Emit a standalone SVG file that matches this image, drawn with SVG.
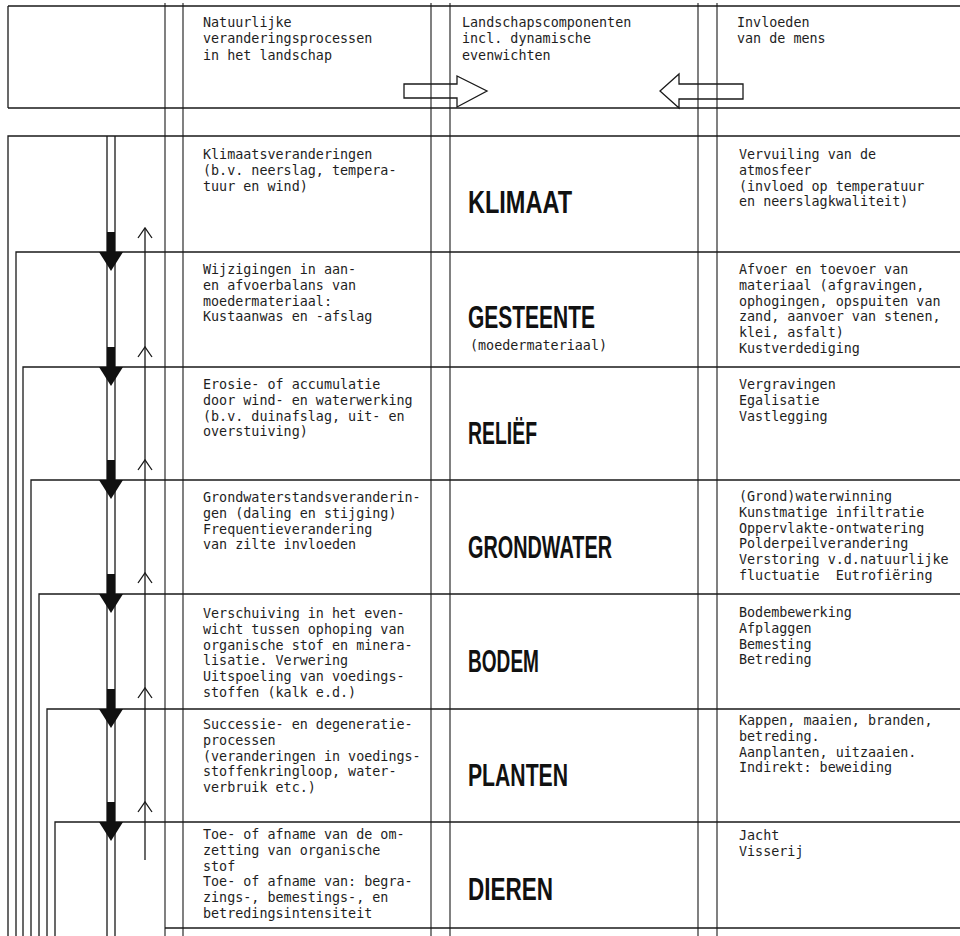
<svg xmlns="http://www.w3.org/2000/svg" width="960" height="936" viewBox="0 0 960 936">
<style>
.ln{stroke:#1a1a1a;stroke-width:1.3;fill:none}
.th{stroke:#1a1a1a;stroke-width:1.1;fill:none}
.t{font-family:"DejaVu Sans Mono","Liberation Mono",monospace;font-size:13.4px;fill:#1e1e1e}
.big{font-family:"Liberation Sans",Arial,sans-serif;font-weight:bold;font-size:32px;fill:#111}
.blk{fill:#111;stroke:none}
</style>
<rect width="960" height="936" fill="#fff"/>
<g id="grid">
<path class="ln" d="M8,6 H960 M8,108 H960 M8,6 V108"/>
<path class="th" d="M165,3 V936 M183,3 V936 M431,3 V936 M450,3 V936 M698,3 V936 M717,3 V936"/>
<path class="ln" d="M8,936 V136 H960"/>
<path class="ln" d="M16,936 V252 H960"/>
<path class="ln" d="M23,936 V367 H960"/>
<path class="ln" d="M31,936 V480 H960"/>
<path class="ln" d="M39,936 V594 H960"/>
<path class="ln" d="M47,936 V709 H960"/>
<path class="ln" d="M55,936 V822 H960"/>
<path class="ln" d="M165,928 H960"/>
</g>
<g id="header">
<g id="h-natuur"><text class="t" x="203" y="27">Natuurlijke<tspan x="203" dy="16.3">veranderingsprocessen</tspan><tspan x="203" dy="16.3">in het landschap</tspan></text></g>
<g id="h-comp"><text class="t" x="462" y="27">Landschapscomponenten<tspan x="462" dy="16.3">incl. dynamische</tspan><tspan x="462" dy="16.3">evenwichten</tspan></text></g>
<g id="h-mens"><text class="t" x="737" y="27">Invloeden<tspan x="737" dy="16.3">van de mens</tspan></text></g>
</g>
<g id="connectors">
<path class="ln" d="M404,84 H457 V76 L487,91 L457,107 V98 H404 Z"/>
<path class="ln" d="M743,84 H679 V74 L660,91 L679,108 V99 H743 Z"/>
<path class="ln" d="M107,136 V936 M115,136 V936"/>
<g class="blk">
<rect x="107" y="232" width="8" height="21"/><path d="M99,252 H123 L111,271 Z"/>
<rect x="107" y="347" width="8" height="21"/><path d="M99,367 H123 L111,386 Z"/>
<rect x="107" y="460" width="8" height="21"/><path d="M99,480 H123 L111,499 Z"/>
<rect x="107" y="574" width="8" height="21"/><path d="M99,594 H123 L111,613 Z"/>
<rect x="107" y="689" width="8" height="21"/><path d="M99,709 H123 L111,728 Z"/>
<rect x="107" y="802" width="8" height="21"/><path d="M99,822 H123 L111,841 Z"/>
</g>
<path class="ln" d="M145,228 V860"/>
<path class="ln" d="M138,238 L145,228 L152,238 M138,357 L145,347 L152,357 M138,470 L145,460 L152,470 M138,583 L145,573 L152,583 M138,698 L145,688 L152,698 M138,812 L145,802 L152,812"/>
</g>
<g id="row-klimaat">
<text class="t" x="203" y="159">Klimaatsveranderingen<tspan x="203" dy="15.8">(b.v. neerslag, tempera-</tspan><tspan x="203" dy="15.8">tuur en wind)</tspan></text>
<text class="big" x="468" y="213" textLength="104" lengthAdjust="spacingAndGlyphs">KLIMAAT</text>
<text class="t" x="739" y="159">Vervuiling van de<tspan x="739" dy="15.8">atmosfeer</tspan><tspan x="739" dy="15.8">(invloed op temperatuur</tspan><tspan x="739" dy="15.8">en neerslagkwaliteit)</tspan></text>
</g>
<g id="row-gesteente">
<text class="t" x="203" y="274">Wijzigingen in aan-<tspan x="203" dy="15.8">en afvoerbalans van</tspan><tspan x="203" dy="15.8">moedermateriaal:</tspan><tspan x="203" dy="15.8">Kustaanwas en -afslag</tspan></text>
<text class="big" x="468" y="328" textLength="127" lengthAdjust="spacingAndGlyphs">GESTEENTE</text>
<text class="t" x="470" y="350">(moedermateriaal)</text>
<text class="t" x="739" y="274">Afvoer en toevoer van<tspan x="739" dy="15.8">materiaal (afgravingen,</tspan><tspan x="739" dy="15.8">ophogingen, opspuiten van</tspan><tspan x="739" dy="15.8">zand, aanvoer van stenen,</tspan><tspan x="739" dy="15.8">klei, asfalt)</tspan><tspan x="739" dy="15.8">Kustverdediging</tspan></text>
</g>
<g id="row-relief">
<text class="t" x="203" y="389">Erosie- of accumulatie<tspan x="203" dy="15.8">door wind- en waterwerking</tspan><tspan x="203" dy="15.8">(b.v. duinafslag, uit- en</tspan><tspan x="203" dy="15.8">overstuiving)</tspan></text>
<text class="big" x="468" y="444" textLength="69" lengthAdjust="spacingAndGlyphs">RELIËF</text>
<text class="t" x="739" y="389">Vergravingen<tspan x="739" dy="15.8">Egalisatie</tspan><tspan x="739" dy="15.8">Vastlegging</tspan></text>
</g>
<g id="row-grondwater">
<text class="t" x="203" y="502">Grondwaterstandsveranderin-<tspan x="203" dy="15.8">gen (daling en stijging)</tspan><tspan x="203" dy="15.8">Frequentieverandering</tspan><tspan x="203" dy="15.8">van zilte invloeden</tspan></text>
<text class="big" x="468" y="558" textLength="144" lengthAdjust="spacingAndGlyphs">GRONDWATER</text>
<text class="t" x="739" y="501">(Grond)waterwinning<tspan x="739" dy="15.8">Kunstmatige infiltratie</tspan><tspan x="739" dy="15.8">Oppervlakte-ontwatering</tspan><tspan x="739" dy="15.8">Polderpeilverandering</tspan><tspan x="739" dy="15.8">Verstoring v.d.natuurlijke</tspan><tspan x="739" dy="15.8" xml:space="preserve">fluctuatie  Eutrofiëring</tspan></text>
</g>
<g id="row-bodem">
<text class="t" x="203" y="618">Verschuiving in het even-<tspan x="203" dy="15.8">wicht tussen ophoping van</tspan><tspan x="203" dy="15.8">organische stof en minera-</tspan><tspan x="203" dy="15.8">lisatie. Verwering</tspan><tspan x="203" dy="15.8">Uitspoeling van voedings-</tspan><tspan x="203" dy="15.8">stoffen (kalk e.d.)</tspan></text>
<text class="big" x="468" y="672" textLength="71" lengthAdjust="spacingAndGlyphs">BODEM</text>
<text class="t" x="739" y="617">Bodembewerking<tspan x="739" dy="15.8">Afplaggen</tspan><tspan x="739" dy="15.8">Bemesting</tspan><tspan x="739" dy="15.8">Betreding</tspan></text>
</g>
<g id="row-planten">
<text class="t" x="203" y="729">Successie- en degeneratie-<tspan x="203" dy="15.8">processen</tspan><tspan x="203" dy="15.8">(veranderingen in voedings-</tspan><tspan x="203" dy="15.8">stoffenkringloop, water-</tspan><tspan x="203" dy="15.8">verbruik etc.)</tspan></text>
<text class="big" x="468" y="786" textLength="100" lengthAdjust="spacingAndGlyphs">PLANTEN</text>
<text class="t" x="739" y="725">Kappen, maaien, branden,<tspan x="739" dy="15.8">betreding.</tspan><tspan x="739" dy="15.8">Aanplanten, uitzaaien.</tspan><tspan x="739" dy="15.8">Indirekt: beweiding</tspan></text>
</g>
<g id="row-dieren">
<text class="t" x="203" y="839">Toe- of afname van de om-<tspan x="203" dy="15.8">zetting van organische</tspan><tspan x="203" dy="15.8">stof</tspan><tspan x="203" dy="15.8">Toe- of afname van: begra-</tspan><tspan x="203" dy="15.8">zings-, bemestings-, en</tspan><tspan x="203" dy="15.8">betredingsintensiteit</tspan></text>
<text class="big" x="468" y="900" textLength="85" lengthAdjust="spacingAndGlyphs">DIEREN</text>
<text class="t" x="739" y="840">Jacht<tspan x="739" dy="15.8">Visserij</tspan></text>
</g>
</svg>
